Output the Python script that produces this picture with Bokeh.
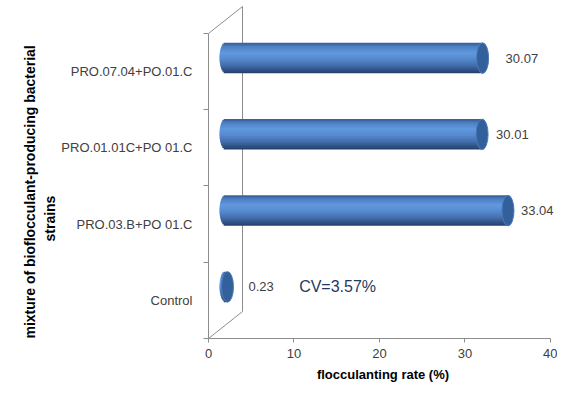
import math
from bokeh.plotting import figure
from bokeh.models import Range1d, FixedTicker, Label, LabelSet, ColumnDataSource, Title
from bokeh.core.properties import value
from bokeh.embed import file_html
from bokeh.resources import INLINE

# ---- data ----
categories = ["Control", "PRO.03.B+PO 01.C", "PRO.01.01C+PO 01.C", "PRO.07.04+PO.01.C"]
values = [0.23, 33.04, 30.01, 30.07]
x_ticks = [0, 10, 20, 30, 40]
cv_text = "CV=3.57%"
x_title = "flocculanting rate (%)"
y_title_lines = ["mixture of bioflocculant-producing  bacterial", "strains"]

# ---- style / layout constants ----
FONT = "Liberation Sans"
GRAY = "#8c8c8c"
TEXT = "#404040"
X_AXIS_MAX = 40
X_MAX = 40.82    # a little room right of the axis end for labels
Y_MAX = 4.367
DX = 3.98     # 3-D depth offset (x units)
DY = 0.354    # 3-D depth offset (y units)
R = 0.20      # cylinder radius (y units)
A = 0.70      # elliptic end half-width (x units)
label_dx = [21, 13, 14, 23]
title_offsets = [0, 97]

p = figure(width=557, height=387, output_backend="svg", toolbar_location=None,
           x_range=Range1d(0, X_MAX), y_range=Range1d(0, Y_MAX),
           min_border_left=208, min_border_right=0, min_border_top=5, min_border_bottom=49)
p.outline_line_color = None
p.xgrid.visible = False
p.ygrid.visible = False
p.background_fill_color = "white"
p.border_fill_color = "white"

n = len(categories)

# x axis
xa = p.xaxis[0]
xa.ticker = FixedTicker(ticks=x_ticks, minor_ticks=[])
xa.bounds = (0, X_AXIS_MAX)
xa.axis_line_color = GRAY
xa.major_tick_line_color = GRAY
xa.major_tick_in = 0
xa.major_tick_out = 4
xa.major_label_standoff = 6
xa.major_label_text_font = FONT
xa.major_label_text_font_size = "13px"
xa.major_label_text_color = TEXT
xa.axis_label = x_title
xa.axis_label_text_font = FONT
xa.axis_label_text_font_style = "bold"
xa.axis_label_text_font_size = "13px"
xa.axis_label_text_color = "#000000"
xa.axis_label_standoff = 6

# y axis: labels at band centres, ticks at band edges
ya = p.yaxis[0]
centres = [i + 0.5 for i in range(n)]
ya.ticker = FixedTicker(ticks=centres, minor_ticks=list(range(n + 1)))
ya.bounds = (0, n)
ya.axis_line_color = GRAY
ya.major_tick_line_color = None
ya.major_tick_in = 0
ya.major_tick_out = 0
ya.minor_tick_line_color = GRAY
ya.minor_tick_in = 0
ya.minor_tick_out = 5
ya.major_label_standoff = 11
ya.major_label_overrides = {c: lab for c, lab in zip(centres, categories)}
ya.major_label_text_font = FONT
ya.major_label_text_font_size = "13px"
ya.major_label_text_color = TEXT

# y title: two rotated lines as left titles (inner line first)
for t, off in reversed(list(zip(y_title_lines, title_offsets))):
    p.add_layout(Title(text=t, align="left", offset=off, standoff=2,
                       text_font=FONT, text_font_size="14px", text_font_style="bold",
                       text_color="#000000"), "left")

# 3-D wall
p.segment(x0=[DX, 0, 0], y0=[DY, n, 0], x1=[DX, DX, DX], y1=[n + DY, n + DY, DY],
          line_color=GRAY, line_width=1)

# cylinder gradient
stops = [(1.0, (52, 92, 150)), (0.75, (78, 128, 196)), (0.35, (96, 152, 222)),
         (0.0, (88, 140, 210)), (-0.5, (66, 108, 170)), (-1.0, (34, 62, 104))]

def grad(t):
    for (t0, c0), (t1, c1) in zip(stops[:-1], stops[1:]):
        if t1 <= t <= t0:
            f = (t0 - t) / (t0 - t1)
            c = [round(c0[k] + (c1[k] - c0[k]) * f) for k in range(3)]
            return "#%02x%02x%02x" % tuple(c)
    return "#%02x%02x%02x" % stops[-1][1]

NS = 20
lefts, rights, bottoms, tops, cols = [], [], [], [], []
cap_x, cap_y = [], []
for i, v in enumerate(values):
    yc = i + 0.5 + DY / 2
    x0 = DX / 2
    x1 = v + DX / 2
    cap_x.append(x1)
    cap_y.append(yc)
    for k in range(NS):
        tb = -1 + 2 * k / NS
        tt = -1 + 2 * (k + 1) / NS
        tm = (tb + tt) / 2
        lefts.append(x0 - A * math.sqrt(max(0.0, 1 - tm * tm)))
        rights.append(x1)
        bottoms.append(yc + tb * R)
        tops.append(yc + min(1.0, tt + 1.0 / NS) * R)
        cols.append(grad(tm))

p.quad(left=lefts, right=rights, bottom=bottoms, top=tops, fill_color=cols,
       line_color=None)
p.ellipse(x=cap_x, y=cap_y, width=2 * A, height=2 * R, fill_color="#33609a",
          line_color="#4a7ab8", line_width=1)

# value labels
src = ColumnDataSource(dict(x=cap_x, y=cap_y, text=[f"{v:.2f}" for v in values], dx=label_dx))
p.add_layout(LabelSet(x="x", y="y", text="text", source=src, x_offset="dx",
                      text_font=value(FONT), text_font_size=value("13px"), text_color=TEXT,
                      text_baseline="middle", text_align="left"))

# CV annotation
p.add_layout(Label(x=10.6, y=cap_y[0], text=cv_text, text_font=FONT,
                   text_font_size="16px", text_color="#1f3a60",
                   text_baseline="middle", text_align="left"))

open("out.html", "w").write(file_html(p, INLINE))
